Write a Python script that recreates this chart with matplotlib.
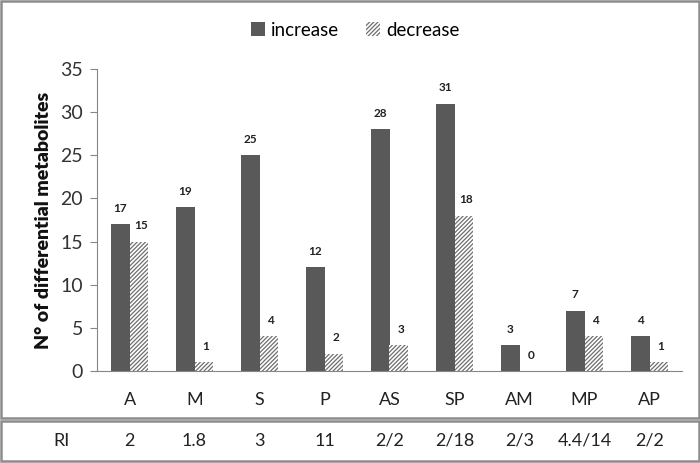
import matplotlib
matplotlib.use("Agg")
import matplotlib.pyplot as plt
from matplotlib.patches import Rectangle, Patch
import numpy as np

categories = ["A", "M", "S", "P", "AS", "SP", "AM", "MP", "AP"]
increase = [17, 19, 25, 12, 28, 31, 3, 7, 4]
decrease = [15, 1, 4, 2, 3, 18, 0, 4, 1]
ri_values = ["2", "1.8", "3", "11", "2/2", "2/18", "2/3", "4.4/14", "2/2"]
yticks = [0, 5, 10, 15, 20, 25, 30, 35]

plt.rcParams['font.family'] = ['Lato', 'DejaVu Sans']
plt.rcParams['hatch.linewidth'] = 0.9

W, H = 700, 463
fig = plt.figure(figsize=(W/100, H/100), dpi=100)

def fx(px):
    return px / W
def fy(py):
    return 1 - py / H

HATCH = "////////"
HCOL = "#6e6e6e"

# plot area: x 97..682, y 69..371
ax = fig.add_axes([fx(97), fy(371), fx(682) - fx(97), fy(69) - fy(371)])
x = np.arange(len(categories))
bw = 0.29
ax.bar(x - bw/2, increase, bw, color="#595959", label="increase", zorder=2)
ax.bar(x + bw/2, decrease, bw, facecolor="white", edgecolor=HCOL,
       hatch=HATCH, linewidth=0, label="decrease", zorder=2)

for xi, v in zip(x, increase):
    ax.text(xi - bw/2, v + 1.2, str(v), ha="center", va="bottom",
            fontsize=8.5, fontweight="bold", color="#222222")
for xi, v in zip(x, decrease):
    ax.text(xi + bw/2 + 0.03, v + 1.2, str(v), ha="center", va="bottom",
            fontsize=8.5, fontweight="bold", color="#222222")

ax.set_xlim(-0.5, len(categories) - 0.5)
ax.set_ylim(0, 35)
ax.set_yticks(yticks)
ax.set_yticklabels([str(t) for t in yticks], fontsize=14, color="#333333")
ax.set_xticks(x)
ax.set_xticklabels(categories, fontsize=13, color="#222222")
ax.tick_params(axis="x", length=0, pad=15)
ax.tick_params(axis="y", length=5, color="#868686", pad=5)
for s in ["top", "right"]:
    ax.spines[s].set_visible(False)
ax.spines["left"].set_color("#868686")
ax.spines["bottom"].set_color("#868686")
ax.set_ylabel("N° of differential metabolites", fontsize=14,
              fontweight="heavy", color="#111111", labelpad=6)

# legend
h1 = Patch(facecolor="#595959", label="increase")
h2 = Patch(facecolor="white", edgecolor=HCOL, hatch=HATCH,
           linewidth=0, label="decrease")
fig.legend(handles=[h1, h2], loc="center", bbox_to_anchor=(fx(355), fy(30)),
           ncol=2, frameon=False, fontsize=13.5, handlelength=0.75,
           handleheight=0.75, handletextpad=0.35, columnspacing=1.4)

# borders
fig.patches.append(Rectangle((fx(1), fy(418)), fx(698), fy(1) - fy(418),
                             transform=fig.transFigure, fill=False,
                             edgecolor="#8c8c8c", linewidth=1.8))
fig.patches.append(Rectangle((fx(1), fy(461)), fx(698), fy(421) - fy(461),
                             transform=fig.transFigure, fill=False,
                             edgecolor="#8c8c8c", linewidth=1.8))

# RI row
ty = fy(441)
fig.text(fx(62), ty, "RI", ha="center", va="center", fontsize=13, color="#222222")
for xi, r in zip(x, ri_values):
    dx = ax.transData.transform((xi, 0))[0]
    fig.text(dx / W, ty, r, ha="center", va="center", fontsize=13, color="#222222")

fig.savefig("out.png", dpi=100)
